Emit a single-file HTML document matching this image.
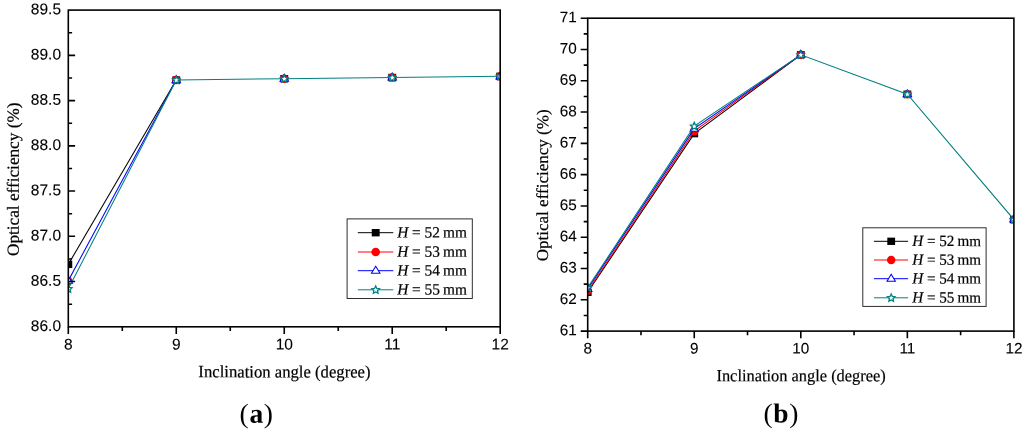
<!DOCTYPE html>
<html lang="en">
<head>
<meta charset="utf-8">
<title>Optical efficiency vs inclination angle</title>
<style>
html,body{margin:0;padding:0;background:#fff;}
body{width:1024px;height:430px;overflow:hidden;}
svg{display:block;}
</style>
</head>
<body>
<svg width="1024" height="430" viewBox="0 0 1024 430">
<rect width="1024" height="430" fill="#fff"/>
<g id="chart-a">
<clipPath id="clipa"><rect x="68.3" y="10.1" width="431.9" height="316.7"/></clipPath>
<g clip-path="url(#clipa)">
<polyline points="68.3,264.36 176.27,80.05" fill="none" stroke="#000000" stroke-width="1.05"/>
<rect x="64.35" y="260.66" width="7.9" height="7.4" fill="#000000"/>
<rect x="172.32" y="76.35" width="7.9" height="7.4" fill="#000000"/>
<rect x="280.3" y="74.99" width="7.9" height="7.4" fill="#000000"/>
<rect x="388.27" y="73.81" width="7.9" height="7.4" fill="#000000"/>
<rect x="496.25" y="72.64" width="7.9" height="7.4" fill="#000000"/>
<circle cx="68.3" cy="281.1" r="4.3" fill="#ff0000"/>
<circle cx="176.27" cy="80.05" r="4.3" fill="#ff0000"/>
<circle cx="284.25" cy="78.69" r="4.3" fill="#ff0000"/>
<circle cx="392.22" cy="77.51" r="4.3" fill="#ff0000"/>
<circle cx="500.2" cy="76.34" r="4.3" fill="#ff0000"/>
<polyline points="68.3,280.65 176.27,80.05" fill="none" stroke="#0000ff" stroke-width="1.05"/>
<polygon points="68.3,276.15 72.55,283.2 64.05,283.2" fill="#fff" stroke="#0000ff" stroke-width="1.05" stroke-linejoin="miter"/>
<polygon points="176.27,75.55 180.52,82.6 172.02,82.6" fill="#fff" stroke="#0000ff" stroke-width="1.05" stroke-linejoin="miter"/>
<polygon points="284.25,74.19 288.5,81.24 280,81.24" fill="#fff" stroke="#0000ff" stroke-width="1.05" stroke-linejoin="miter"/>
<polygon points="392.22,73.01 396.47,80.06 387.97,80.06" fill="#fff" stroke="#0000ff" stroke-width="1.05" stroke-linejoin="miter"/>
<polygon points="500.2,71.84 504.45,78.89 495.95,78.89" fill="#fff" stroke="#0000ff" stroke-width="1.05" stroke-linejoin="miter"/>
<polyline points="68.3,288.8 176.27,80.05 284.25,78.69 392.22,77.51 500.2,76.34" fill="none" stroke="#008080" stroke-width="1.05"/>
<polygon points="68.3,285 69.45,287.42 72.1,287.76 70.15,289.6 70.65,292.23 68.3,290.95 65.95,292.23 66.45,289.6 64.5,287.76 67.15,287.42" fill="#fff" stroke="#008080" stroke-width="1.31" stroke-linejoin="miter"/>
<polygon points="176.27,76.25 177.42,78.67 180.08,79.01 178.13,80.85 178.63,83.48 176.27,82.2 173.92,83.48 174.42,80.85 172.47,79.01 175.13,78.67" fill="#fff" stroke="#008080" stroke-width="1.31" stroke-linejoin="miter"/>
<polygon points="284.25,74.89 285.4,77.31 288.05,77.65 286.1,79.49 286.6,82.12 284.25,80.84 281.9,82.12 282.4,79.49 280.45,77.65 283.1,77.31" fill="#fff" stroke="#008080" stroke-width="1.31" stroke-linejoin="miter"/>
<polygon points="392.22,73.71 393.37,76.13 396.03,76.48 394.08,78.31 394.58,80.95 392.22,79.66 389.87,80.95 390.37,78.31 388.42,76.48 391.08,76.13" fill="#fff" stroke="#008080" stroke-width="1.31" stroke-linejoin="miter"/>
<polygon points="500.2,72.54 501.35,74.96 504,75.3 502.05,77.14 502.55,79.77 500.2,78.49 497.85,79.77 498.35,77.14 496.4,75.3 499.05,74.96" fill="#fff" stroke="#008080" stroke-width="1.31" stroke-linejoin="miter"/>
</g>
<rect x="68.3" y="10.1" width="431.9" height="316.7" fill="none" stroke="#000" stroke-width="1.6"/>
<path d="M68.3 326.8v7.3 M122.29 326.8v4.3 M176.27 326.8v7.3 M230.26 326.8v4.3 M284.25 326.8v7.3 M338.24 326.8v4.3 M392.22 326.8v7.3 M446.21 326.8v4.3 M500.2 326.8v7.3 M68.3 304.18h3.8 M68.3 281.56h6.8 M68.3 258.94h3.8 M68.3 236.31h6.8 M68.3 213.69h3.8 M68.3 191.07h6.8 M68.3 168.45h3.8 M68.3 145.83h6.8 M68.3 123.21h3.8 M68.3 100.59h6.8 M68.3 77.96h3.8 M68.3 55.34h6.8 M68.3 32.72h3.8" stroke="#000" stroke-width="1.6" fill="none"/>
<text font-family="Liberation Sans, Arial, sans-serif" font-size="15.5" text-anchor="middle" transform="translate(68.3 349.6) rotate(0.03)" stroke="#000" stroke-width="0.1">8</text>
<text font-family="Liberation Sans, Arial, sans-serif" font-size="15.5" text-anchor="middle" transform="translate(176.27 349.6) rotate(0.03)" stroke="#000" stroke-width="0.1">9</text>
<text font-family="Liberation Sans, Arial, sans-serif" font-size="15.5" text-anchor="middle" transform="translate(284.25 349.6) rotate(0.03)" stroke="#000" stroke-width="0.1">10</text>
<text font-family="Liberation Sans, Arial, sans-serif" font-size="15.5" text-anchor="middle" transform="translate(392.22 349.6) rotate(0.03)" stroke="#000" stroke-width="0.1">11</text>
<text font-family="Liberation Sans, Arial, sans-serif" font-size="15.5" text-anchor="middle" transform="translate(500.2 349.6) rotate(0.03)" stroke="#000" stroke-width="0.1">12</text>
<text font-family="Liberation Sans, Arial, sans-serif" font-size="15.5" text-anchor="end" transform="translate(61 330.9) rotate(0.03)" stroke="#000" stroke-width="0.1">86.0</text>
<text font-family="Liberation Sans, Arial, sans-serif" font-size="15.5" text-anchor="end" transform="translate(61 285.66) rotate(0.03)" stroke="#000" stroke-width="0.1">86.5</text>
<text font-family="Liberation Sans, Arial, sans-serif" font-size="15.5" text-anchor="end" transform="translate(61 240.41) rotate(0.03)" stroke="#000" stroke-width="0.1">87.0</text>
<text font-family="Liberation Sans, Arial, sans-serif" font-size="15.5" text-anchor="end" transform="translate(61 195.17) rotate(0.03)" stroke="#000" stroke-width="0.1">87.5</text>
<text font-family="Liberation Sans, Arial, sans-serif" font-size="15.5" text-anchor="end" transform="translate(61 149.93) rotate(0.03)" stroke="#000" stroke-width="0.1">88.0</text>
<text font-family="Liberation Sans, Arial, sans-serif" font-size="15.5" text-anchor="end" transform="translate(61 104.69) rotate(0.03)" stroke="#000" stroke-width="0.1">88.5</text>
<text font-family="Liberation Sans, Arial, sans-serif" font-size="15.5" text-anchor="end" transform="translate(61 59.44) rotate(0.03)" stroke="#000" stroke-width="0.1">89.0</text>
<text font-family="Liberation Sans, Arial, sans-serif" font-size="15.5" text-anchor="end" transform="translate(61 14.2) rotate(0.03)" stroke="#000" stroke-width="0.1">89.5</text>
<text font-family="Liberation Serif, Times New Roman, serif" font-size="16.5" text-anchor="middle" transform="translate(284.45 377.4) rotate(0.03) scale(1.011 1.05)" stroke="#000" stroke-width="0.2">Inclination angle (degree)</text>
<text font-family="Liberation Serif, Times New Roman, serif" font-size="16.5" text-anchor="middle" transform="translate(18.8 179.3) rotate(-89.97) scale(1.0435 1.03)" stroke="#000" stroke-width="0.2">Optical efficiency (%)</text>
<text font-family="Liberation Serif, Times New Roman, serif" font-size="27.5" text-anchor="middle" transform="translate(256.3 422.7) rotate(0.03)">(<tspan font-weight="bold" dx="0.6">a</tspan><tspan dx="0.7">)</tspan></text>
<rect x="347.1" y="218.9" width="125.2" height="79.6" fill="#fff" stroke="#222" stroke-width="0.95"/>
<path d="M357.8 232.7H393.3" stroke="#000000" stroke-width="1"/>
<rect x="371.75" y="229" width="7.9" height="7.4" fill="#000000"/>
<text font-family="Liberation Serif, Times New Roman, serif" font-size="15.5" text-anchor="start" transform="translate(397.2 237.5) rotate(0.03) scale(0.99 1.02)" stroke="#000" stroke-width="0.2"><tspan font-style="italic">H</tspan> = 52<tspan dx="-0.7"> mm</tspan></text>
<path d="M357.8 252H393.3" stroke="#ff0000" stroke-width="1"/>
<circle cx="375.7" cy="252" r="4.3" fill="#ff0000"/>
<text font-family="Liberation Serif, Times New Roman, serif" font-size="15.5" text-anchor="start" transform="translate(397.2 256.8) rotate(0.03) scale(0.99 1.02)" stroke="#000" stroke-width="0.2"><tspan font-style="italic">H</tspan> = 53<tspan dx="-0.7"> mm</tspan></text>
<path d="M357.8 270.7H393.3" stroke="#0000ff" stroke-width="1"/>
<polygon points="375.7,266.2 379.95,273.25 371.45,273.25" fill="#fff" stroke="#0000ff" stroke-width="1.05" stroke-linejoin="miter"/>
<text font-family="Liberation Serif, Times New Roman, serif" font-size="15.5" text-anchor="start" transform="translate(397.2 275.5) rotate(0.03) scale(0.99 1.02)" stroke="#000" stroke-width="0.2"><tspan font-style="italic">H</tspan> = 54<tspan dx="-0.7"> mm</tspan></text>
<path d="M357.8 289.8H393.3" stroke="#008080" stroke-width="1"/>
<polygon points="375.7,286 376.85,288.42 379.5,288.76 377.55,290.6 378.05,293.24 375.7,291.95 373.35,293.24 373.85,290.6 371.9,288.76 374.55,288.42" fill="#fff" stroke="#008080" stroke-width="1.31" stroke-linejoin="miter"/>
<text font-family="Liberation Serif, Times New Roman, serif" font-size="15.5" text-anchor="start" transform="translate(397.2 294.6) rotate(0.03) scale(0.99 1.02)" stroke="#000" stroke-width="0.2"><tspan font-style="italic">H</tspan> = 55<tspan dx="-0.7"> mm</tspan></text>
</g>
<g id="chart-b">
<clipPath id="clipb"><rect x="587.7" y="18.2" width="426.2" height="312.9"/></clipPath>
<g clip-path="url(#clipb)">
<polyline points="587.7,292.3 694.25,133.66 800.8,54.81" fill="none" stroke="#000000" stroke-width="1.05"/>
<rect x="583.8" y="288.64" width="7.81" height="7.31" fill="#000000"/>
<rect x="690.35" y="130" width="7.81" height="7.31" fill="#000000"/>
<rect x="796.9" y="51.15" width="7.81" height="7.31" fill="#000000"/>
<rect x="903.45" y="90.58" width="7.81" height="7.31" fill="#000000"/>
<rect x="1010" y="215.9" width="7.81" height="7.31" fill="#000000"/>
<polyline points="587.7,291.05 694.25,131.16 800.8,54.81" fill="none" stroke="#ff0000" stroke-width="1.05"/>
<circle cx="587.7" cy="291.05" r="4.25" fill="#ff0000"/>
<circle cx="694.25" cy="131.16" r="4.25" fill="#ff0000"/>
<circle cx="800.8" cy="54.81" r="4.25" fill="#ff0000"/>
<circle cx="907.35" cy="94.23" r="4.25" fill="#ff0000"/>
<circle cx="1013.9" cy="219.55" r="4.25" fill="#ff0000"/>
<polyline points="587.7,288.86 694.25,128.65 800.8,54.81" fill="none" stroke="#0000ff" stroke-width="1.05"/>
<polygon points="587.7,284.41 591.9,291.38 583.5,291.38" fill="#fff" stroke="#0000ff" stroke-width="1.05" stroke-linejoin="miter"/>
<polygon points="694.25,124.21 698.45,131.17 690.05,131.17" fill="#fff" stroke="#0000ff" stroke-width="1.05" stroke-linejoin="miter"/>
<polygon points="800.8,50.36 805,57.33 796.6,57.33" fill="#fff" stroke="#0000ff" stroke-width="1.05" stroke-linejoin="miter"/>
<polygon points="907.35,89.79 911.55,96.75 903.15,96.75" fill="#fff" stroke="#0000ff" stroke-width="1.05" stroke-linejoin="miter"/>
<polygon points="1013.9,215.11 1018.1,222.07 1009.7,222.07" fill="#fff" stroke="#0000ff" stroke-width="1.05" stroke-linejoin="miter"/>
<polyline points="587.7,287.61 694.25,126.15 800.8,54.81 907.35,94.23 1013.9,219.55" fill="none" stroke="#008080" stroke-width="1.05"/>
<polygon points="587.7,283.85 588.83,286.25 591.46,286.58 589.53,288.4 590.02,291 587.7,289.73 585.38,291 585.87,288.4 583.94,286.58 586.57,286.25" fill="#fff" stroke="#008080" stroke-width="1.31" stroke-linejoin="miter"/>
<polygon points="694.25,122.4 695.38,124.79 698.01,125.13 696.08,126.94 696.57,129.55 694.25,128.27 691.93,129.55 692.42,126.94 690.49,125.13 693.12,124.79" fill="#fff" stroke="#008080" stroke-width="1.31" stroke-linejoin="miter"/>
<polygon points="800.8,51.05 801.93,53.45 804.56,53.79 802.63,55.6 803.12,58.2 800.8,56.93 798.48,58.2 798.97,55.6 797.04,53.79 799.67,53.45" fill="#fff" stroke="#008080" stroke-width="1.31" stroke-linejoin="miter"/>
<polygon points="907.35,90.48 908.48,92.87 911.11,93.21 909.18,95.03 909.67,97.63 907.35,96.36 905.03,97.63 905.52,95.03 903.59,93.21 906.22,92.87" fill="#fff" stroke="#008080" stroke-width="1.31" stroke-linejoin="miter"/>
<polygon points="1013.9,215.8 1015.03,218.19 1017.66,218.53 1015.73,220.34 1016.22,222.95 1013.9,221.68 1011.58,222.95 1012.07,220.34 1010.14,218.53 1012.77,218.19" fill="#fff" stroke="#008080" stroke-width="1.31" stroke-linejoin="miter"/>
</g>
<rect x="587.7" y="18.2" width="426.2" height="312.9" fill="none" stroke="#000" stroke-width="1.6"/>
<path d="M587.7 331.1v7.2 M640.98 331.1v4.1 M694.25 331.1v7.2 M747.53 331.1v4.1 M800.8 331.1v7.2 M854.08 331.1v4.1 M907.35 331.1v7.2 M960.62 331.1v4.1 M1013.9 331.1v7.2 M587.7 331.1h-7 M587.7 315.45h-4 M587.7 299.81h-7 M587.7 284.17h-4 M587.7 268.52h-7 M587.7 252.88h-4 M587.7 237.23h-7 M587.7 221.59h-4 M587.7 205.94h-7 M587.7 190.3h-4 M587.7 174.65h-7 M587.7 159h-4 M587.7 143.36h-7 M587.7 127.72h-4 M587.7 112.07h-7 M587.7 96.43h-4 M587.7 80.78h-7 M587.7 65.14h-4 M587.7 49.49h-7 M587.7 33.84h-4 M587.7 18.2h-7" stroke="#000" stroke-width="1.6" fill="none"/>
<text font-family="Liberation Sans, Arial, sans-serif" font-size="15.3" text-anchor="middle" transform="translate(587.7 353.4) rotate(0.03)" stroke="#000" stroke-width="0.1">8</text>
<text font-family="Liberation Sans, Arial, sans-serif" font-size="15.3" text-anchor="middle" transform="translate(694.25 353.4) rotate(0.03)" stroke="#000" stroke-width="0.1">9</text>
<text font-family="Liberation Sans, Arial, sans-serif" font-size="15.3" text-anchor="middle" transform="translate(800.8 353.4) rotate(0.03)" stroke="#000" stroke-width="0.1">10</text>
<text font-family="Liberation Sans, Arial, sans-serif" font-size="15.3" text-anchor="middle" transform="translate(907.35 353.4) rotate(0.03)" stroke="#000" stroke-width="0.1">11</text>
<text font-family="Liberation Sans, Arial, sans-serif" font-size="15.3" text-anchor="middle" transform="translate(1013.9 353.4) rotate(0.03)" stroke="#000" stroke-width="0.1">12</text>
<text font-family="Liberation Sans, Arial, sans-serif" font-size="15.3" text-anchor="end" transform="translate(576.7 335.2) rotate(0.03)" stroke="#000" stroke-width="0.1">61</text>
<text font-family="Liberation Sans, Arial, sans-serif" font-size="15.3" text-anchor="end" transform="translate(576.7 303.91) rotate(0.03)" stroke="#000" stroke-width="0.1">62</text>
<text font-family="Liberation Sans, Arial, sans-serif" font-size="15.3" text-anchor="end" transform="translate(576.7 272.62) rotate(0.03)" stroke="#000" stroke-width="0.1">63</text>
<text font-family="Liberation Sans, Arial, sans-serif" font-size="15.3" text-anchor="end" transform="translate(576.7 241.33) rotate(0.03)" stroke="#000" stroke-width="0.1">64</text>
<text font-family="Liberation Sans, Arial, sans-serif" font-size="15.3" text-anchor="end" transform="translate(576.7 210.04) rotate(0.03)" stroke="#000" stroke-width="0.1">65</text>
<text font-family="Liberation Sans, Arial, sans-serif" font-size="15.3" text-anchor="end" transform="translate(576.7 178.75) rotate(0.03)" stroke="#000" stroke-width="0.1">66</text>
<text font-family="Liberation Sans, Arial, sans-serif" font-size="15.3" text-anchor="end" transform="translate(576.7 147.46) rotate(0.03)" stroke="#000" stroke-width="0.1">67</text>
<text font-family="Liberation Sans, Arial, sans-serif" font-size="15.3" text-anchor="end" transform="translate(576.7 116.17) rotate(0.03)" stroke="#000" stroke-width="0.1">68</text>
<text font-family="Liberation Sans, Arial, sans-serif" font-size="15.3" text-anchor="end" transform="translate(576.7 84.88) rotate(0.03)" stroke="#000" stroke-width="0.1">69</text>
<text font-family="Liberation Sans, Arial, sans-serif" font-size="15.3" text-anchor="end" transform="translate(576.7 53.59) rotate(0.03)" stroke="#000" stroke-width="0.1">70</text>
<text font-family="Liberation Sans, Arial, sans-serif" font-size="15.3" text-anchor="end" transform="translate(576.7 22.3) rotate(0.03)" stroke="#000" stroke-width="0.1">71</text>
<text font-family="Liberation Serif, Times New Roman, serif" font-size="16.3" text-anchor="middle" transform="translate(801.1 381.3) rotate(0.03) scale(1.006 1.05)" stroke="#000" stroke-width="0.2">Inclination angle (degree)</text>
<text font-family="Liberation Serif, Times New Roman, serif" font-size="16.3" text-anchor="middle" transform="translate(548.1 185.35) rotate(-89.97) scale(1.046 1.03)" stroke="#000" stroke-width="0.2">Optical efficiency (%)</text>
<text font-family="Liberation Serif, Times New Roman, serif" font-size="27.5" text-anchor="middle" transform="translate(781 422.5) rotate(0.03)">(<tspan font-weight="bold" dx="0.6">b</tspan><tspan dx="0.7">)</tspan></text>
<rect x="862.8" y="227.8" width="123.3" height="78.6" fill="#fff" stroke="#222" stroke-width="0.95"/>
<path d="M874 241.3H908.1" stroke="#000000" stroke-width="1"/>
<rect x="887.3" y="237.64" width="7.81" height="7.31" fill="#000000"/>
<text font-family="Liberation Serif, Times New Roman, serif" font-size="15.3" text-anchor="start" transform="translate(912.2 246.1) rotate(0.03) scale(0.99 1.02)" stroke="#000" stroke-width="0.2"><tspan font-style="italic">H</tspan> = 52<tspan dx="-0.7"> mm</tspan></text>
<path d="M874 260H908.1" stroke="#ff0000" stroke-width="1"/>
<circle cx="891.2" cy="260" r="4.25" fill="#ff0000"/>
<text font-family="Liberation Serif, Times New Roman, serif" font-size="15.3" text-anchor="start" transform="translate(912.2 264.8) rotate(0.03) scale(0.99 1.02)" stroke="#000" stroke-width="0.2"><tspan font-style="italic">H</tspan> = 53<tspan dx="-0.7"> mm</tspan></text>
<path d="M874 278.7H908.1" stroke="#0000ff" stroke-width="1"/>
<polygon points="891.2,274.25 895.4,281.22 887,281.22" fill="#fff" stroke="#0000ff" stroke-width="1.05" stroke-linejoin="miter"/>
<text font-family="Liberation Serif, Times New Roman, serif" font-size="15.3" text-anchor="start" transform="translate(912.2 283.5) rotate(0.03) scale(0.99 1.02)" stroke="#000" stroke-width="0.2"><tspan font-style="italic">H</tspan> = 54<tspan dx="-0.7"> mm</tspan></text>
<path d="M874 297.8H908.1" stroke="#008080" stroke-width="1"/>
<polygon points="891.2,294.05 892.33,296.44 894.96,296.78 893.03,298.59 893.52,301.19 891.2,299.92 888.88,301.19 889.37,298.59 887.44,296.78 890.07,296.44" fill="#fff" stroke="#008080" stroke-width="1.31" stroke-linejoin="miter"/>
<text font-family="Liberation Serif, Times New Roman, serif" font-size="15.3" text-anchor="start" transform="translate(912.2 302.6) rotate(0.03) scale(0.99 1.02)" stroke="#000" stroke-width="0.2"><tspan font-style="italic">H</tspan> = 55<tspan dx="-0.7"> mm</tspan></text>
</g>
</svg>
</body>
</html>
